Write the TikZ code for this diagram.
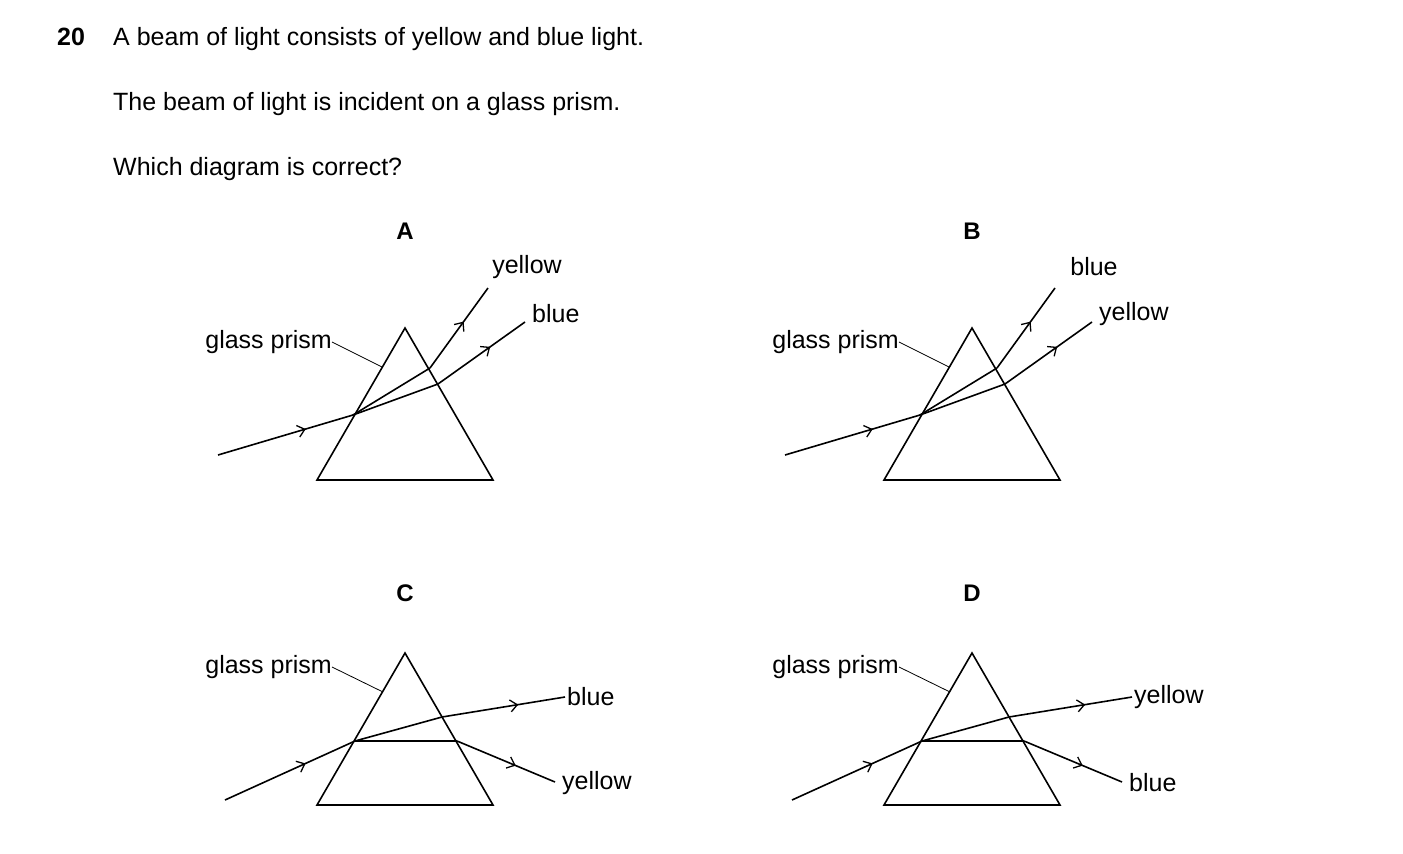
\documentclass[tikz,border=0pt]{standalone}
\usepackage{fontspec}
\setmainfont{Liberation Sans}
\usetikzlibrary{arrows.meta,decorations.markings}
\begin{document}
\begin{tikzpicture}[x=1pt,y=-1pt,
  line/.style={line width=1.6pt,black},
  ray/.style={line width=1.6pt},
  mid/.style={postaction={decorate},decoration={markings,mark=at position #1 with {\arrow{Straight Barb[length=7pt,width=12pt,line width=1.3pt]}}}},
  lbl/.style={font=\fontsize{25}{30}\selectfont,inner sep=0pt},
  ttl/.style={font=\fontsize{25}{30}\selectfont,inner sep=0pt,anchor=base west},
  hdr/.style={font=\bfseries\fontsize{24}{30}\selectfont,inner sep=0pt},
  lead/.style={line width=0.8pt}]
\useasboundingbox (0,0) rectangle (1403,854);
\node[ttl,font=\bfseries\fontsize{25}{30}\selectfont] (n20) at (57,45) {20};
\node[ttl] (t1) at (113,45) {A beam of light consists of yellow and blue light.};
\node[ttl] (t2) at (113,110) {The beam of light is incident on a glass prism.};
\node[ttl] (t3) at (113,175) {Which diagram is correct?};
% top diagrams
\foreach \dx/\L/\ta/\tb/\nm in {0/A/yellow/blue/a,567/B/blue/yellow/b}{
  \begin{scope}[xshift=\dx]
  \node[hdr] (h\nm) at (405,231) {\L};
  \coordinate (p1\nm) at (405,328); \coordinate (p2\nm) at (317,480); \coordinate (p3\nm) at (493,480);
  \draw[line,line join=miter] (p1\nm)--(p2\nm)--(p3\nm)--cycle;
  \coordinate (s\nm) at (218,455); \coordinate (e\nm) at (353,415);
  \coordinate (y\nm) at (430,368); \coordinate (b\nm) at (438,384);
  \coordinate (yo\nm) at (488,288); \coordinate (bo\nm) at (525,322);
  \draw[ray,mid=0.65] (s\nm)--(e\nm);
  \draw[ray] (e\nm)--(y\nm); \draw[ray] (e\nm)--(b\nm);
  \draw[ray,mid=0.58] (y\nm)--(yo\nm);
  \draw[ray,mid=0.6] (b\nm)--(bo\nm);
  \node[lbl,anchor=east] (g\nm) at (332,342) {glass prism};
  \coordinate (gl\nm) at (382,367);
  \draw[lead] (g\nm.east)--(gl\nm);
  \node[lbl] (la\nm) at (527,267) {\ta};
  \node[lbl,anchor=west] (lb\nm) at (532,314) {\tb};
  \end{scope}}
% bottom diagrams
\foreach \dx/\L/\ta/\tb/\nm in {0/C/blue/yellow/c,567/D/yellow/blue/d}{
  \begin{scope}[xshift=\dx]
  \node[hdr] (h\nm) at (405,593) {\L};
  \coordinate (p1\nm) at (405,653); \coordinate (p2\nm) at (317,805); \coordinate (p3\nm) at (493,805);
  \draw[line,line join=miter] (p1\nm)--(p2\nm)--(p3\nm)--cycle;
  \coordinate (s\nm) at (225,800); \coordinate (e\nm) at (355,741);
  \coordinate (h2\nm) at (457,741); \coordinate (u\nm) at (442,717);
  \coordinate (ho\nm) at (555,782); \coordinate (uo\nm) at (565,697);
  \draw[ray,mid=0.62] (s\nm)--(e\nm);
  \draw[ray] (e\nm)--(h2\nm); \draw[ray] (e\nm)--(u\nm);
  \draw[ray,mid=0.6] (h2\nm)--(ho\nm);
  \draw[ray,mid=0.62] (u\nm)--(uo\nm);
  \node[lbl,anchor=east] (g\nm) at (332,667) {glass prism};
  \coordinate (gl\nm) at (383,692);
  \draw[lead] (g\nm.east)--(gl\nm);
  \node[lbl,anchor=west] (la\nm) at (567,697) {\ta};
  \node[lbl,anchor=west] (lb\nm) at (562,783) {\tb};
  \end{scope}}
\end{tikzpicture}
\end{document}
